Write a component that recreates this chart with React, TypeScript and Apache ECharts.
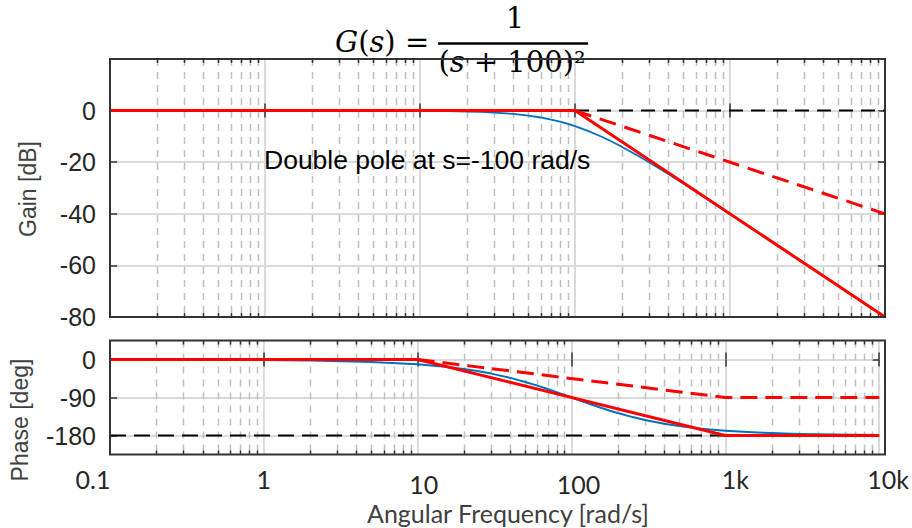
import React, { useEffect, useRef } from "react";
import * as echarts from "echarts";

// ---------- data ----------
const freqTickLabels = ["0.1", "1", "10", "100", "1k", "10k"];
const gainTicks = [0, -20, -40, -60, -80];
const phaseTicks = [0, -90, -180];

const minorFreqs = [
  0.2, 0.3, 0.4, 0.5, 0.6, 0.7, 0.8, 0.9,
  2, 3, 4, 5, 6, 7, 8, 9,
  20, 30, 40, 50, 60, 70, 80, 90,
  200, 300, 400, 500, 600, 700, 800, 900,
  2000, 3000, 4000, 5000, 6000, 7000, 8000, 9000,
];

// actual response (blue)
const freqSamples = [
  0.1, 1, 2, 5, 10, 15, 20, 25, 30, 40, 50, 60, 70, 80, 90, 100, 120, 150, 180,
  200, 250, 300, 400, 500, 600, 700, 800, 1000, 1500, 2000, 3000, 5000, 10000,
];
const gainActual = [
  0, 0, 0, -0.02, -0.09, -0.19, -0.34, -0.53, -0.75, -1.29, -1.94, -2.67, -3.46,
  -4.3, -5.15, -6.02, -7.75, -10.24, -12.55, -13.98, -17.21, -20.0, -24.61, -28.3,
  -31.36, -33.98, -36.26, -40.09, -47.08, -52.06, -59.09, -67.96, -80.0,
];
const phaseActual = [
  -0.11, -1.15, -2.29, -5.72, -11.42, -17.06, -22.62, -28.07, -33.4, -43.6, -53.13,
  -61.93, -69.98, -77.32, -83.97, -90, -100.39, -112.62, -121.89, -126.87, -136.4,
  -143.13, -151.93, -157.38, -161.08, -163.74, -165.75, -168.58, -172.37, -174.28,
  -176.18, -177.71, -178.85,
];

// asymptotes (red)
const gainAsymFreq = [0.1, 100, 10000];
const gainAsym = [0, 0, -80];
const gainSingleFreq = [100, 10000];
const gainSingle = [0, -40];
const gainRefFreq = [100, 10000];
const gainRef = [0, 0];

const phaseAsymFreq = [0.1, 10, 1000, 10000];
const phaseAsym = [0, 0, -180, -180];
const phaseSingleFreq = [10, 1000, 10000];
const phaseSingle = [0, -90, -90];
const phaseRefFreq = [0.1, 1000];
const phaseRef = [-180, -180];

// ---------- helpers ----------
const pairs = (xs: number[], ys: number[]) => xs.map((x, i) => [x, ys[i]]);

const RED = "#ff0000";
const BLUE = "#0072bd";
const FRAME = "#333333";
const GRID_MAJOR = "#dadada";
const GRID_MINOR = "#bfbfbf";

const G0 = { left: 110, top: 59, width: 775, height: 258 };
const G1 = { left: 110, top: 340.5, width: 775, height: 114 };

// label nudges (dx, dy) for x tick labels
const xLabelNudge = [
  [-17, 0],
  [0, 0],
  [6, 5],
  [7, 5],
  [10, 0],
  [9, 0],
];

const minorRender = (params: any, api: any) => {
  const f = api.value(0);
  const pt = api.coord([f, api.value(1)]);
  const cs = params.coordSys;
  const x = Math.round(pt[0]) + 0.5;
  const top = cs.y;
  const bot = cs.y + cs.height;
  return {
    type: "group",
    children: [
      {
        type: "line",
        shape: { x1: x, y1: top, x2: x, y2: bot },
        style: { stroke: GRID_MINOR, lineWidth: 1.5, lineDash: [7, 6] },
      },
      {
        type: "line",
        shape: { x1: x, y1: bot, x2: x, y2: bot - 4 },
        style: { stroke: FRAME, lineWidth: 1.5 },
      },
      {
        type: "line",
        shape: { x1: x, y1: top, x2: x, y2: top + 4 },
        style: { stroke: FRAME, lineWidth: 1.5 },
      },
    ],
  };
};

const logX = (gridIndex: number, position: "top" | "bottom", labels: boolean) => ({
  type: "log",
  logBase: 10,
  gridIndex,
  position,
  min: 0.1,
  max: 10000,
  splitNumber: 5,
  axisLine: { show: false },
  axisTick: { show: true, inside: true, length: 7, lineStyle: { color: FRAME, width: 1.5 } },
  splitLine: {
    show: position === "bottom",
    lineStyle: { color: GRID_MAJOR, width: 2 },
  },
  minorTick: { show: false },
  axisLabel: labels
    ? {
        show: true,
        margin: 12,
        showMinLabel: true,
        showMaxLabel: true,
        formatter: (v: number) => {
          const i = Math.round(Math.log10(v)) + 1;
          return `{t${i}|${freqTickLabels[i] ?? ""}}`;
        },
        rich: Object.fromEntries(
          xLabelNudge.map(([dx, dy], i) => [
            `t${i}`,
            {
              fontFamily: "Lato",
              fontSize: 25,
              color: "#262626",
              padding: [dy, dx < 0 ? -2 * dx : 0, 0, dx > 0 ? 2 * dx : 0],
            },
          ])
        ),
      }
    : { show: false },
});

const valY = (
  gridIndex: number,
  position: "left" | "right",
  min: number,
  max: number,
  ticks: number[],
  interval?: number
) => {
  const ax: any = {
    type: "value",
    gridIndex,
    position,
    min,
    max,
    axisLine: { show: false },
    axisTick: {
      show: true,
      inside: true,
      length: 7,
      lineStyle: { color: FRAME, width: 1.5 },
      customValues: ticks,
    },
    splitLine: { show: position === "left", lineStyle: { color: GRID_MAJOR, width: 2 } },
    axisLabel:
      position === "left"
        ? {
            show: true,
            margin: 14,
            fontFamily: "Liberation Sans",
            fontSize: 25,
            color: "#262626",
            customValues: ticks,
          }
        : { show: false },
  };
  if (interval) ax.interval = interval;
  return ax;
};

export default function App() {
  const ref = useRef<HTMLDivElement>(null);

  useEffect(() => {
    if (!ref.current) return;
    const chart = echarts.init(ref.current, null, { renderer: "svg" });

    const lineBase = {
      type: "line",
      showSymbol: false,
      symbol: "none",
      silent: true,
      animation: false,
    };

    const option: any = {
      animation: false,
      backgroundColor: "#ffffff",
      grid: [
        { ...G0, show: false },
        { ...G1, show: false },
      ],
      xAxis: [
        logX(0, "bottom", false),
        logX(0, "top", false),
        logX(1, "bottom", true),
        logX(1, "top", false),
      ],
      yAxis: [
        valY(0, "left", -80, 20, gainTicks, 20),
        valY(0, "right", -80, 20, gainTicks, 20),
        valY(1, "left", -225, 45, phaseTicks),
        valY(1, "right", -225, 45, phaseTicks),
      ],
      series: [
        {
          type: "custom",
          xAxisIndex: 0,
          yAxisIndex: 0,
          z: 1,
          silent: true,
          renderItem: minorRender,
          data: minorFreqs.map((f) => [f, 0]),
        },
        {
          type: "custom",
          xAxisIndex: 2,
          yAxisIndex: 2,
          z: 1,
          silent: true,
          renderItem: minorRender,
          data: minorFreqs.map((f) => [f, 0]),
        },
        // gain plot
        {
          ...lineBase,
          xAxisIndex: 0,
          yAxisIndex: 0,
          z: 2,
          data: pairs(gainRefFreq, gainRef),
          lineStyle: { color: "#000", width: 2, type: [14, 8] },
        },
        {
          ...lineBase,
          xAxisIndex: 0,
          yAxisIndex: 0,
          z: 3,
          data: pairs(freqSamples, gainActual),
          lineStyle: { color: BLUE, width: 1.8, join: "round" },
        },
        {
          ...lineBase,
          xAxisIndex: 0,
          yAxisIndex: 0,
          z: 4,
          data: pairs(gainSingleFreq, gainSingle),
          lineStyle: { color: RED, width: 3, type: [17, 9] },
        },
        {
          ...lineBase,
          xAxisIndex: 0,
          yAxisIndex: 0,
          z: 5,
          data: pairs(gainAsymFreq, gainAsym),
          lineStyle: { color: RED, width: 3 },
        },
        // phase plot
        {
          ...lineBase,
          xAxisIndex: 2,
          yAxisIndex: 2,
          z: 2,
          data: pairs(phaseRefFreq, phaseRef),
          lineStyle: { color: "#000", width: 2, type: [16, 8] },
        },
        {
          ...lineBase,
          xAxisIndex: 2,
          yAxisIndex: 2,
          z: 3,
          data: pairs(freqSamples, phaseActual),
          lineStyle: { color: BLUE, width: 2, join: "round" },
        },
        {
          ...lineBase,
          xAxisIndex: 2,
          yAxisIndex: 2,
          z: 4,
          data: pairs(phaseSingleFreq, phaseSingle),
          lineStyle: { color: RED, width: 3, type: [17, 8] },
        },
        {
          ...lineBase,
          xAxisIndex: 2,
          yAxisIndex: 2,
          z: 5,
          data: pairs(phaseAsymFreq, phaseAsym),
          lineStyle: { color: RED, width: 3 },
        },
      ],
      graphic: [
        // frames
        {
          type: "rect",
          z: 100,
          silent: true,
          shape: { x: G0.left, y: G0.top, width: G0.width, height: G0.height },
          style: { fill: "none", stroke: FRAME, lineWidth: 2 },
        },
        {
          type: "rect",
          z: 100,
          silent: true,
          shape: { x: G1.left, y: G1.top, width: G1.width, height: G1.height },
          style: { fill: "none", stroke: FRAME, lineWidth: 2 },
        },
        // title formula
        {
          type: "text",
          z: 90,
          x: 335,
          y: 42,
          style: {
            text: "{i|G}(" + "{i|s}) =",
            fontFamily: "DejaVu Serif",
            fontSize: 29,
            fill: "#000",
            align: "left",
            verticalAlign: "middle",
            textAlign: "left",
            textVerticalAlign: "middle",
            rich: {
              i: { fontFamily: "DejaVu Serif", fontSize: 29, fontStyle: "italic", fill: "#000" },
            },
          },
        },
        {
          type: "text",
          z: 90,
          x: 515,
          y: 18,
          style: {
            text: "1",
            fontFamily: "DejaVu Serif",
            fontSize: 29,
            fill: "#000",
            align: "center",
            verticalAlign: "middle",
            textAlign: "center",
            textVerticalAlign: "middle",
          },
        },
        {
          type: "line",
          z: 90,
          shape: { x1: 438, y1: 43.5, x2: 588, y2: 43.5 },
          style: { stroke: "#000", lineWidth: 2.5 },
        },
        {
          type: "text",
          z: 90,
          x: 512,
          y: 62,
          style: {
            text: "({i|s} + 100)²",
            fontFamily: "DejaVu Serif",
            fontSize: 29,
            fill: "#000",
            align: "center",
            verticalAlign: "middle",
            textAlign: "center",
            textVerticalAlign: "middle",
            rich: {
              i: { fontFamily: "DejaVu Serif", fontSize: 29, fontStyle: "italic", fill: "#000" },
            },
          },
        },
        // annotation
        {
          type: "text",
          z: 90,
          x: 264,
          y: 160,
          style: {
            text: "Double pole at s=-100 rad/s",
            fontFamily: "Liberation Sans",
            fontSize: 26.5,
            fill: "#000",
            align: "left",
            verticalAlign: "middle",
            textAlign: "left",
            textVerticalAlign: "middle",
          },
        },
        // axis names
        {
          type: "text",
          z: 90,
          x: 28,
          y: 189,
          rotation: Math.PI / 2,
          style: {
            text: "Gain [dB]",
            fontFamily: "Liberation Sans",
            fontSize: 23,
            fill: "#404040",
            align: "center",
            verticalAlign: "middle",
            textAlign: "center",
            textVerticalAlign: "middle",
          },
        },
        {
          type: "text",
          z: 90,
          x: 20,
          y: 420,
          rotation: Math.PI / 2,
          style: {
            text: "Phase [deg]",
            fontFamily: "Liberation Sans",
            fontSize: 23,
            fill: "#404040",
            align: "center",
            verticalAlign: "middle",
            textAlign: "center",
            textVerticalAlign: "middle",
          },
        },
        {
          type: "text",
          z: 90,
          x: 508,
          y: 513,
          style: {
            text: "Angular Frequency [rad/s]",
            fontFamily: "Lato",
            fontSize: 25,
            fill: "#404040",
            align: "center",
            verticalAlign: "middle",
            textAlign: "center",
            textVerticalAlign: "middle",
          },
        },
      ],
    };

    chart.setOption(option);
    return () => chart.dispose();
  }, []);

  return <div ref={ref} style={{ width: 912, height: 528, position: "absolute", left: 0, top: 0 }} />;
}
